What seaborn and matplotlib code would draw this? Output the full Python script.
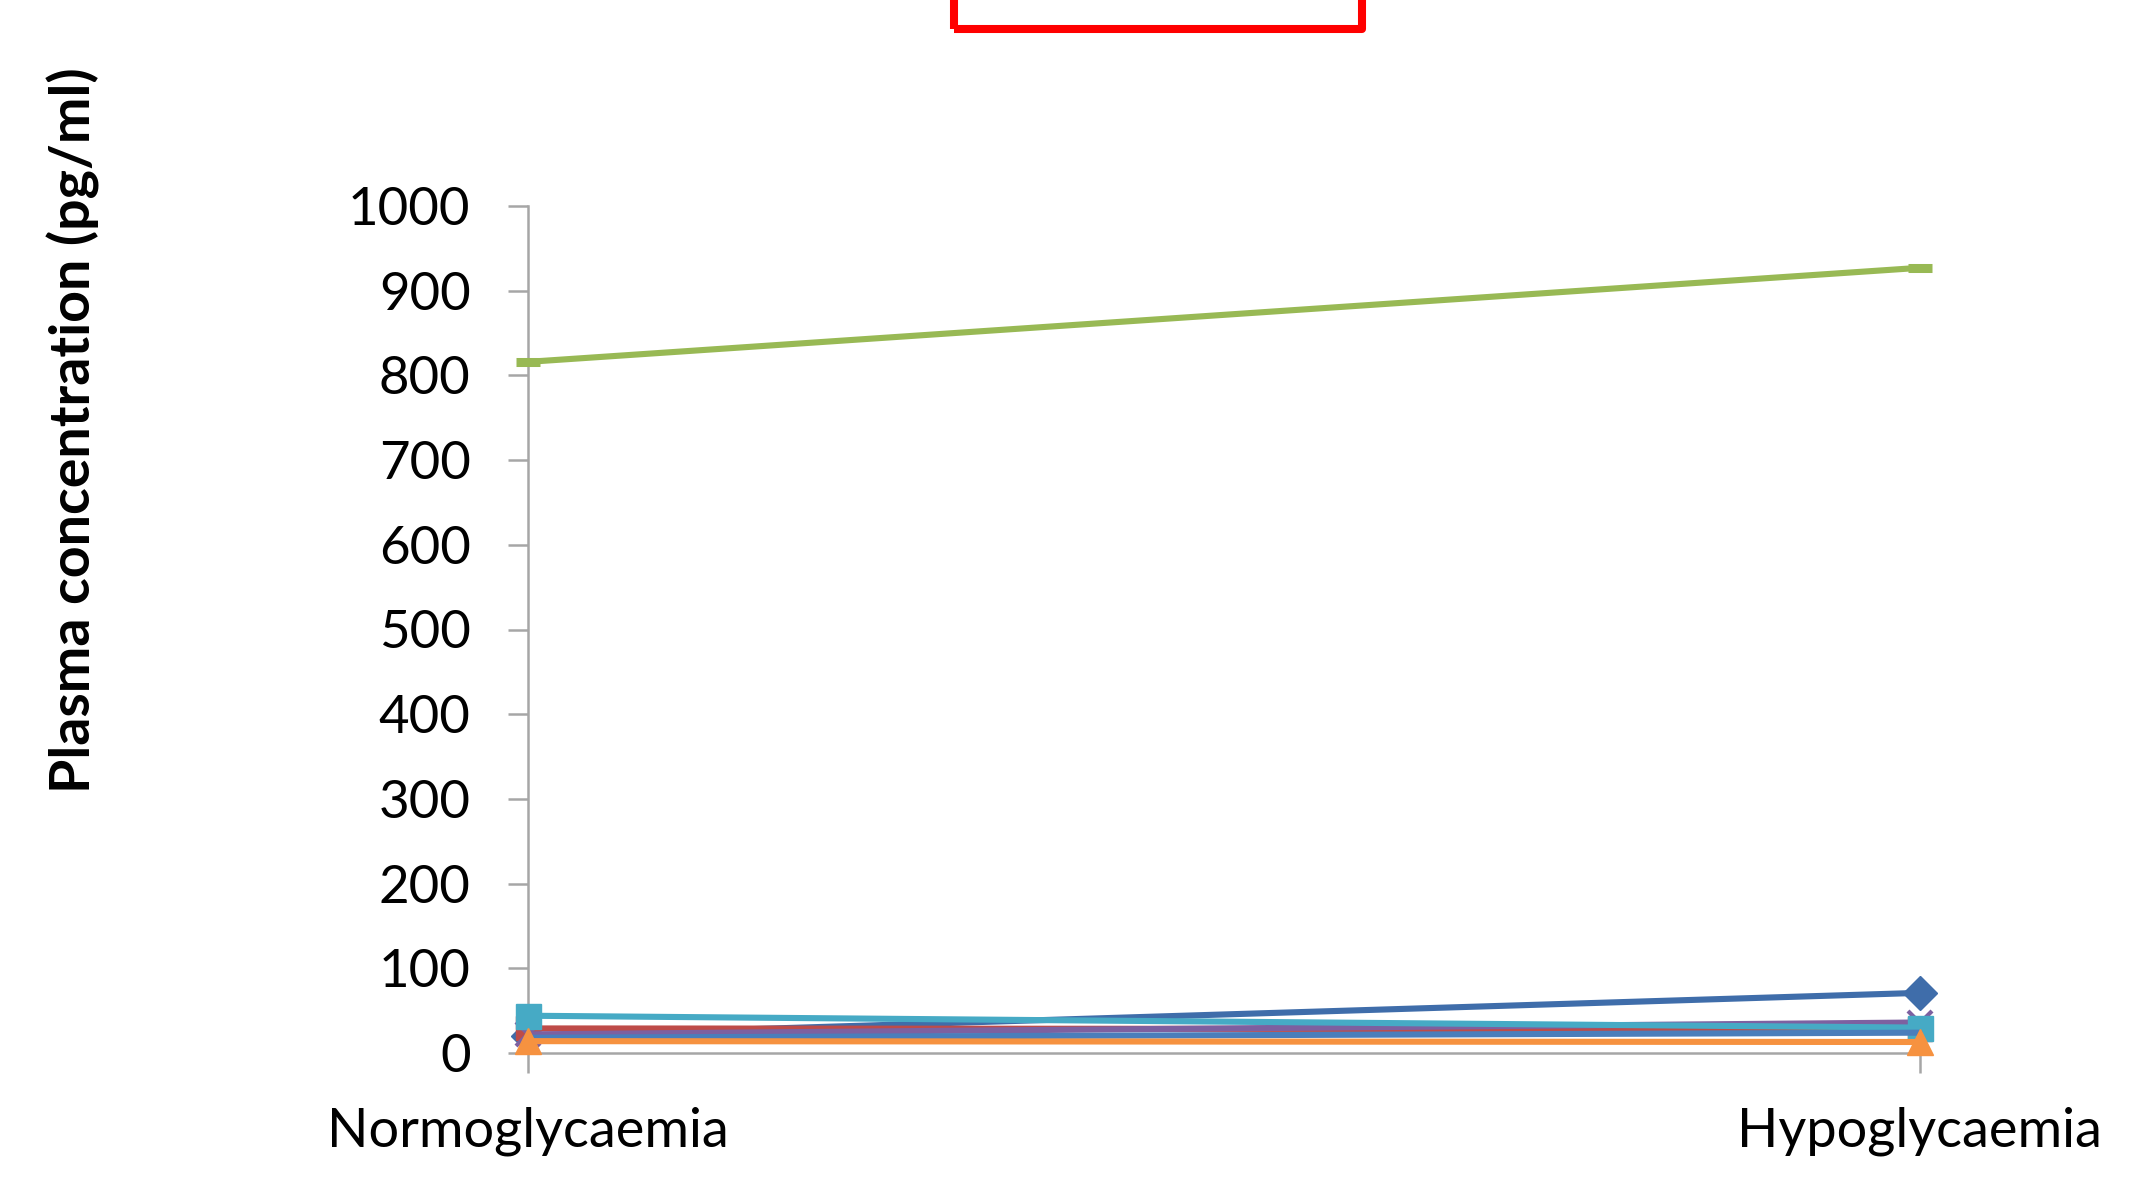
import matplotlib
matplotlib.use("Agg")
import matplotlib.pyplot as plt
import seaborn as sns
import pandas as pd
from matplotlib.patches import Rectangle

# Conditions on the x axis
conditions = ["Normoglycaemia", "Hypoglycaemia"]

# Plasma concentrations (pg/ml) for each analyte, normo -> hypo
series_1 = [20, 71]
series_2 = [29, 28]
series_3 = [816, 927]
series_4 = [22, 36]
series_5 = [44, 30]
series_6 = [14, 13]
series_7 = [18, 24]

y_ticks = list(range(0, 1001, 100))

sns.set_theme(style="white")
plt.rcParams["font.family"] = ["Lato", "DejaVu Sans"]

DPI = 100
fig = plt.figure(figsize=(2145 / DPI, 1180 / DPI), dpi=DPI)
ax = fig.add_axes([528 / 2145, 1 - 1053 / 1180, 1400 / 2145, (1053 - 206) / 1180])

styles = [
    (series_1, "#3F6DAA", "D", 17, 1.0),
    (series_2, "#BE4B48", "s", 17, 1.0),
    (series_3, "#98B954", "_", 17, 6.5),
    (series_4, "#7D60A0", "x", 17, 3.0),
    (series_5, "#46AAC5", "s", 18, 1.0),
    (series_7, "#4A7EBB", None, 0, 1.0),
    (series_6, "#F69240", "^", 19, 1.0),
]

for i, (vals, color, marker, ms, mew) in enumerate(styles):
    df = pd.DataFrame({"pos": [0, 1], "value": vals})
    sns.lineplot(data=df, x="pos", y="value", ax=ax, color=color, linewidth=4.4,
                 marker=marker, markersize=ms, markeredgewidth=mew,
                 markeredgecolor=color, markerfacecolor=color,
                 clip_on=False, zorder=3 + i, legend=False)

ax.set_xlim(0, 1.006)
ax.set_ylim(0, 1000)
ax.set_yticks(y_ticks)
ax.set_yticklabels([str(t) for t in y_ticks])
ax.set_xticks([0, 1])
ax.set_xticklabels(conditions)
ax.set_xlabel("")
ax.set_ylabel("")

for side in ["top", "right"]:
    ax.spines[side].set_visible(False)
for side in ["left", "bottom"]:
    ax.spines[side].set_color("#A6A6A6")
    ax.spines[side].set_linewidth(1.8)

ax.tick_params(axis="y", direction="out", length=14.4, width=1.8, color="#A6A6A6",
               labelsize=38, pad=27, left=True, labelcolor="black")
ax.tick_params(axis="x", direction="out", length=14.4, width=1.8, color="#A6A6A6",
               labelsize=39, pad=24, bottom=True, labelcolor="black")

fig.text(73 / 2145, 1 - 430 / 1180, "Plasma concentration (pg/ml)", rotation=90,
         ha="center", va="center", fontsize=40, fontweight="bold", color="black")

# Title placeholder frame at the top edge
fig.patches.append(Rectangle((954 / 2145, 1 - 29 / 1180), (1362 - 954) / 2145, 0.1,
                             transform=fig.transFigure, fill=False, edgecolor="#FF0000",
                             linewidth=5.8, joinstyle="round"))

fig.savefig("out.png", dpi=DPI, facecolor="white")
